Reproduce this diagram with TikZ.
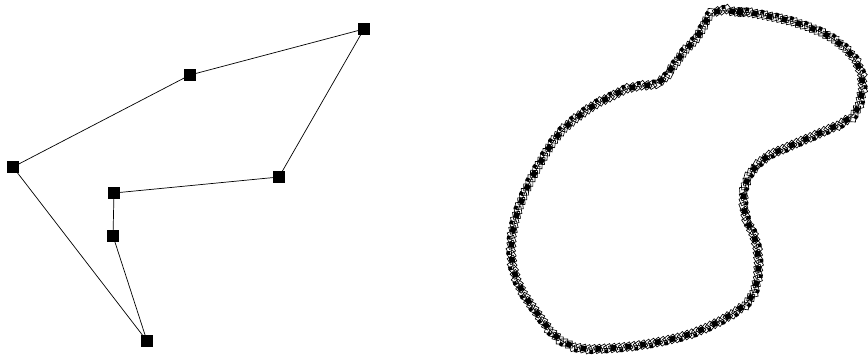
\documentclass[tikz,border=0pt]{standalone}
\usetikzlibrary{decorations.markings}
\tikzset{
  vertex/.style={
    draw=black,
    fill=black,
    rectangle,
    minimum size=3.2mm,
    inner sep=0pt
  },
  every edge/.style={
    draw=black,
    line width=0.6pt
  },
  blob/.style={
    draw=black,
    line width=0.6pt
  },
  beads/.style={
    postaction={decorate},
    decoration={markings,
      mark=between positions 0 and 1 step 4.5mm with {
        \foreach \s in {0,1.5,3}
          \draw[line width=0.55pt, rotate around={25:(\s mm,0)}] (\s mm-1.05mm,-1.05mm) rectangle (\s mm+1.05mm,1.05mm);
        \fill (-0.85mm,-0.85mm) rectangle (0.85mm,0.85mm);
        \fill (1.6mm,0.3mm) rectangle (2.7mm,1.4mm);
      }
    }
  }
}
\begin{document}
\begin{tikzpicture}[x=0.3mm, y=-0.3mm]
  \useasboundingbox (0,0) rectangle (868,362);
  % control polygon
  \node[vertex] (p1) at (364, 29) {};
  \node[vertex] (p2) at (190, 75) {};
  \node[vertex] (p3) at (13, 167) {};
  \node[vertex] (p4) at (147, 341) {};
  \node[vertex] (p5) at (113, 236) {};
  \node[vertex] (p6) at (114, 193) {};
  \node[vertex] (p7) at (279, 177) {};
  \path (p1) edge (p2)
        (p2) edge (p3)
        (p3) edge (p4)
        (p4) edge (p5)
        (p5) edge (p6)
        (p6) edge (p7)
        (p7) edge (p1);
  % resulting curve
  \draw[blob, beads] plot[smooth cycle, tension=0.6] coordinates {
    (713,13) (740,12) (763,15) (797,23) (830,37) (853,57) (862,80)
    (858,107) (845,121) (820,133) (790,146) (767,157) (751,173)
    (744,193) (746,217) (754,236) (758,256) (757,280) (749,300)
    (727,317) (693,333) (653,343) (613,348) (580,348) (557,337)
    (537,313) (520,287) (512,260) (513,230) (523,197) (540,163)
    (560,133) (587,110) (610,97) (630,88) (657,83) (670,70)
    (683,53) (697,37)
  };
\end{tikzpicture}
\end{document}
